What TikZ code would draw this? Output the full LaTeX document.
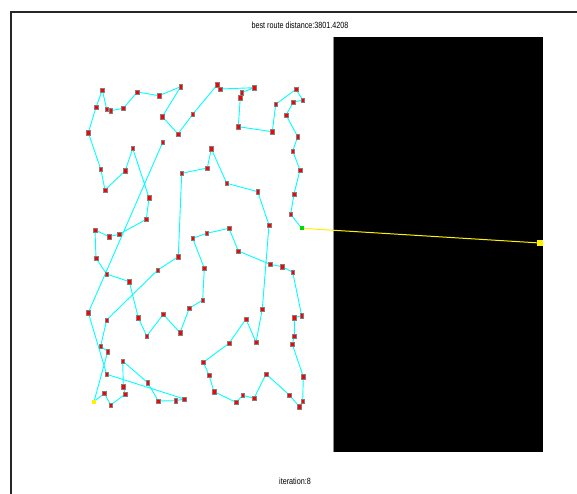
\documentclass[tikz,border=0pt]{standalone}
\usepackage{fontspec}
\setmainfont{Liberation Sans}
\usetikzlibrary{calc}
\definecolor{routecyan}{RGB}{0,255,255}

\begin{document}
\begin{tikzpicture}[x=1pt,y=-1pt,
  route/.style={routecyan,line width=.9pt,line join=round},
  city/.style={fill=red,draw=black!50,line width=.3pt},
  label/.style={font=\fontsize{9}{10}\selectfont,xscale=.8,inner sep=0pt}]
\path[use as bounding box,fill=white] (0,0) rectangle (577,494);
% figure frame
\draw[black!85,line width=1.3pt] (11,494)--(11,12)--(577,12);
% obstacle
\fill[black] (333,37) rectangle (543,451.5);
\draw[black!45,line width=.4pt] (333,37)--(333,451.5);

% cities, in visiting order
\foreach \n/\x/\y in {
 1/301.7/228.3, 2/290.7/214.3, 3/294.0/194.0, 4/300.0/170.0, 5/292.7/151.0,
 6/297.7/136.7, 7/286.0/115.0, 8/293.3/102.3, 9/302.7/100.0, 10/296.0/89.3,
 11/275.7/104.3, 12/272.3/131.7, 13/238.3/126.7, 14/240.3/97.5, 15/241.7/92.5,
 16/254.3/87.7, 17/220.0/89.0, 18/217.3/84.7, 19/192.7/114.3, 20/178.0/134.0,
 21/162.3/116.7, 22/180.7/86.7, 23/159.0/95.7, 24/137.3/92.0, 25/123.3/108.3,
 26/110.7/110.7, 27/106.7/109.3, 28/102.3/90.0, 29/96.0/107.3, 30/88.3/132.7,
 31/100.7/169.0, 32/105.0/190.0, 33/125.3/170.7, 34/132.7/148.3, 35/149.0/197.7,
 36/146.3/219.3, 37/119.0/234.3, 38/109.3/236.7, 39/95.0/230.0, 40/96.0/258.3,
 41/106.7/274.0, 42/129.3/281.7, 43/138.3/317.7, 44/146.7/336.0, 45/163.3/314.3,
 46/180.0/332.7, 47/189.3/308.3, 48/202.7/300.0, 49/204.3/268.3, 50/192.7/238.3,
 51/206.7/233.3, 52/229.0/228.3, 53/238.3/251.0, 54/270.0/264.3, 55/282.3/266.7,
 56/292.7/272.3, 57/301.7/315.7, 58/294.3/317.7, 59/294.3/336.0, 60/292.3/344.3,
 61/303.3/376.7, 62/302.7/401.0, 63/299.3/406.7, 64/289.3/395.0, 65/266.0/374.0,
 66/254.0/398.3, 67/242.7/395.3, 68/236.0/402.3, 69/214.0/391.7, 70/209.0/375.0,
 71/203.3/362.3, 72/229.0/343.3, 73/246.0/319.0, 74/256.0/342.3, 75/262.3/309.0,
 76/269.0/225.0, 77/257.7/191.7, 78/226.7/183.3, 79/211.3/148.7, 80/207.3/168.0,
 81/181.7/173.3, 82/178.3/256.7, 83/157.7/270.0, 84/106.7/320.0, 85/100.7/346.0,
 86/107.7/351.7, 87/94.0/401.7, 88/104.3/393.3, 89/110.7/405.0, 90/125.0/394.3,
 91/123.3/386.7, 92/122.7/361.0, 93/147.7/382.7, 94/158.3/401.0, 95/175.7/400.7,
 96/184.3/399.0, 97/106.7/374.3, 98/88.3/312.7, 99/162.7/142.3}
  \coordinate (c\n) at (\x,\y);

% best route
\draw[route] (c1) \foreach \n in {2,...,99} {-- (c\n)};

% link to the target
\node[fill=yellow,minimum size=6pt,inner sep=0pt] (goal) at (540,243) {};
\draw[yellow,line width=1pt] (c1) -- (goal.center);

\foreach \n in {2,...,86,88,89,...,99}
  \draw[city] ($(c\n)+(-1.9,-2.3)$) rectangle ($(c\n)+(1.9,2.3)$);
\fill[green!85!black] ($(c1)+(-2,-2)$) rectangle ($(c1)+(2,2)$);
\fill[yellow] ($(c87)+(-2,-2)$) rectangle ($(c87)+(2,2)$);

\node[label] (title) at (300,25.5) {best route distance:3801.4208};
\node[label] (iter) at (295,481) {iteration:8};
\end{tikzpicture}
\end{document}
